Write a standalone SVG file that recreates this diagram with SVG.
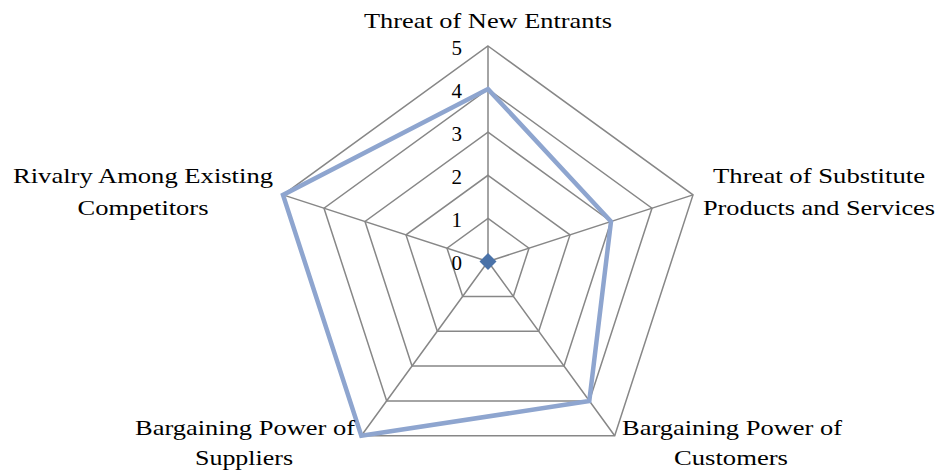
<svg xmlns="http://www.w3.org/2000/svg" width="939" height="473" viewBox="0 0 939 473">
<style>
.grid{fill:none;stroke:#878787;stroke-width:1.5}
.txt{font-family:'Liberation Serif','Times New Roman',Times,serif;font-size:22px;fill:#000}
.tick{font-family:'Liberation Serif','Times New Roman',Times,serif;font-size:21px;fill:#000;text-anchor:end}
.series{fill:none;stroke:#8EA5CF;stroke-width:4.5;stroke-linejoin:miter}
</style>
<rect width="939" height="473" fill="#fff"/>
<g id="grid">
<polygon class="grid" points="488,218.4 529,248.2 513.3,296.4 462.7,296.4 447,248.2"/>
<polygon class="grid" points="488,175.3 570,234.9 538.7,331.2 437.3,331.2 406,234.9"/>
<polygon class="grid" points="488,132.2 611,221.5 564,366.1 412,366.1 365,221.5"/>
<polygon class="grid" points="488,89.1 652,208.2 589.3,401 386.7,401 324,208.2"/>
<polygon class="grid" points="488,46 693,194.9 614.7,435.8 361.3,435.8 283,194.9"/>
<path class="grid" d="M488,261.5V46M488,261.5L693,194.9M488,261.5L614.7,435.8M488,261.5L361.3,435.8M488,261.5L283,194.9"/>
</g>
<g id="ticks">
<text class="tick" x="462" y="55">5</text>
<text class="tick" x="462" y="98">4</text>
<text class="tick" x="462" y="141">3</text>
<text class="tick" x="462" y="184">2</text>
<text class="tick" x="462" y="227">1</text>
<text class="tick" x="462" y="270">0</text>
</g>
<g id="connectors">
<polygon class="series" points="488,89.1 611,221.5 589.3,401 361.3,435.8 283,194.9"/>
</g>
<g id="marker">
<polygon points="488,253 496.5,261.5 488,270 479.5,261.5" fill="#4A72A8"/>
</g>
<g id="node-new-entrants">
<text class="txt" x="488" y="28" text-anchor="middle" textLength="248" lengthAdjust="spacingAndGlyphs">Threat of New Entrants</text>
</g>
<g id="node-substitutes">
<text class="txt" x="819" y="183" text-anchor="middle" textLength="212" lengthAdjust="spacingAndGlyphs">Threat of Substitute</text>
<text class="txt" x="819" y="215" text-anchor="middle" textLength="232" lengthAdjust="spacingAndGlyphs">Products and Services</text>
</g>
<g id="node-customers">
<text class="txt" x="732" y="435" text-anchor="middle" textLength="220" lengthAdjust="spacingAndGlyphs">Bargaining Power of</text>
<text class="txt" x="731" y="465" text-anchor="middle" textLength="114" lengthAdjust="spacingAndGlyphs">Customers</text>
</g>
<g id="node-suppliers">
<text class="txt" x="245" y="435" text-anchor="middle" textLength="220" lengthAdjust="spacingAndGlyphs">Bargaining Power of</text>
<text class="txt" x="244" y="465" text-anchor="middle" textLength="98" lengthAdjust="spacingAndGlyphs">Suppliers</text>
</g>
<g id="node-rivalry">
<text class="txt" x="143" y="183" text-anchor="middle" textLength="260" lengthAdjust="spacingAndGlyphs">Rivalry Among Existing</text>
<text class="txt" x="143" y="215" text-anchor="middle" textLength="131" lengthAdjust="spacingAndGlyphs">Competitors</text>
</g>
</svg>
